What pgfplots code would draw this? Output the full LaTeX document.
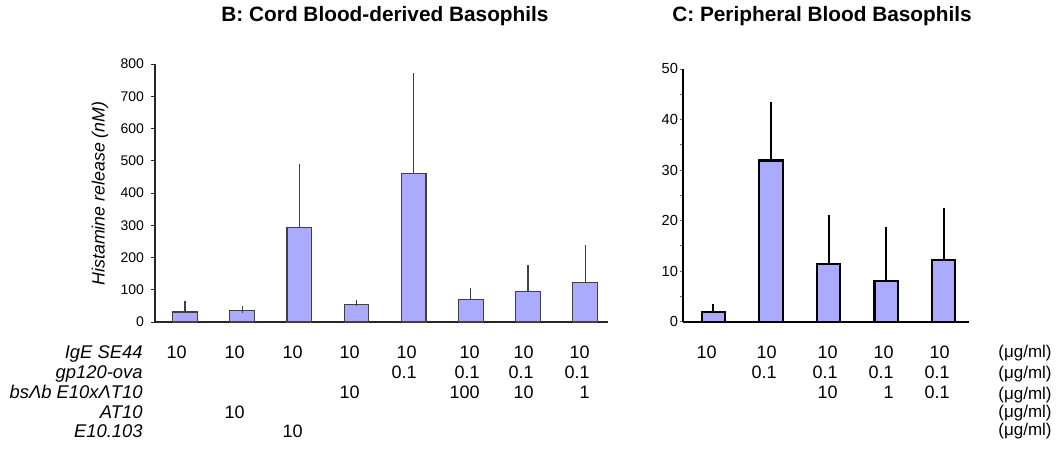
\documentclass[border=0pt]{standalone}
\usepackage{pgfplots}
\pgfplotsset{compat=1.18}
\usepackage{fontspec}
\setmainfont{Liberation Sans}
\definecolor{barblue}{RGB}{170,170,255}
\begin{document}
\begin{tikzpicture}[x=0.5pt,y=0.5pt]
\path[use as bounding box] (0,0) rectangle (1059,473);

% ---------- Panel B ----------
\begin{axis}[
  at={(77.5pt,75.5pt)}, anchor=south west,
  scale only axis, width=226.5pt, height=129pt,
  xmin=0.475, xmax=8.40, ymin=0, ymax=800,
  axis x line=bottom, axis y line=left,
  axis line style={-, line width=0.6pt, black!85},
  xtick=\empty, ytick={0,100,...,800},
  tick align=outside, major tick length=2pt,
  y tick style={black!85, line width=0.5pt},
  tick label style={font=\fontsize{7}{8}\selectfont},
  /pgf/number format/assume math mode=true,
  clip=false,
]
\addplot[ybar, bar width=12.3pt, fill=barblue, draw=black!75, line width=0.6pt,
  error bars/.cd, y dir=plus, y explicit,
  error bar style={line width=0.6pt, black!75},
  error mark options={line width=0.6pt, black!75, mark size=1.7pt}]
  table[x=x, y=y, y error=e] {
  x y e
  1 31 24
  2 35 5
  3 293 186
  4 55 4
  5 461 301
  6 69 25
  7 95 71
  8 122 107
  };
\end{axis}

% ---------- Panel C ----------
\begin{axis}[
  at={(341.5pt,75.65pt)}, anchor=south west,
  scale only axis, width=143pt, height=126.4pt,
  xmin=0.472, xmax=5.44, ymin=0, ymax=50,
  axis x line=bottom, axis y line=left,
  axis line style={-, line width=1pt, black},
  xtick=\empty, ytick={0,10,...,50}, minor ytick={5,15,...,45},
  tick align=outside, major tick length=1.5pt, minor tick length=1.5pt,
  y tick style={black!60, line width=0.4pt},
  tick label style={font=\fontsize{7.3}{8}\selectfont},
  yticklabel style={xshift=2.5pt},
  /pgf/number format/assume math mode=true,
  clip=false,
]
\addplot[ybar, bar width=11.7pt, fill=barblue, draw=black, line width=1.1pt,
  error bars/.cd, y dir=plus, y explicit,
  error bar style={line width=1pt, black},
  error mark options={line width=1pt, black, mark size=1.4pt}]
  table[x=x, y=y, y error=e] {
  x y e
  1 1.9 1.0
  2 31.9 11.1
  3 11.4 9.1
  4 8.1 10.0
  5 12.2 9.8
  };
\end{axis}

% ---------- titles ----------
\node[font=\fontsize{10.4}{12}\selectfont\bfseries] at (385,457) {B: Cord Blood-derived Basophils};
\node[font=\fontsize{10.4}{12}\selectfont\bfseries] at (822,457) {C: Peripheral Blood Basophils};

% ---------- y label ----------
\node[font=\fontsize{8.9}{10}\selectfont\itshape, rotate=90] at (100,279.5) {Histamine release (nM)};

% ---------- row labels ----------
\begin{scope}[every node/.style={font=\fontsize{9.2}{10}\selectfont\itshape, anchor=base east, inner sep=0pt}]
\node at (143,114.5) {IgE SE44};
\node at (143,94.5) {gp120-ova};
\node at (143,74.5) {bsΛb E10xΛT10};
\node at (143,54.5) {AT10};
\node at (143,35.5) {E10.103};
\end{scope}

% ---------- values ----------
\begin{scope}[every node/.style={font=\fontsize{9}{10}\selectfont, anchor=base east, inner sep=0pt}]
\foreach \x in {187,245,303,360,417,480,534,590,717,777,838,894,950} {\node at (\x,114.5) {10};}
\foreach \x in {417,480,534,590,777,838,894,950} {\node at (\x,94.5) {0.1};}
\node at (360,74.5) {10};
\node at (480,74.5) {100};
\node at (534,74.5) {10};
\node at (590,74.5) {1};
\node at (838,74.5) {10};
\node at (894,74.5) {1};
\node at (950,74.5) {0.1};
\node at (245,54.5) {10};
\node at (303,35.5) {10};
\end{scope}

% ---------- units ----------
\begin{scope}[every node/.style={font=\fontsize{8.5}{10}\selectfont, anchor=base west, inner sep=0pt}]
\foreach \y in {115.5,94.5,73.5,55.5,37.5} {\node at (998,\y) {(μg/ml)};}
\end{scope}
\end{tikzpicture}
\end{document}
